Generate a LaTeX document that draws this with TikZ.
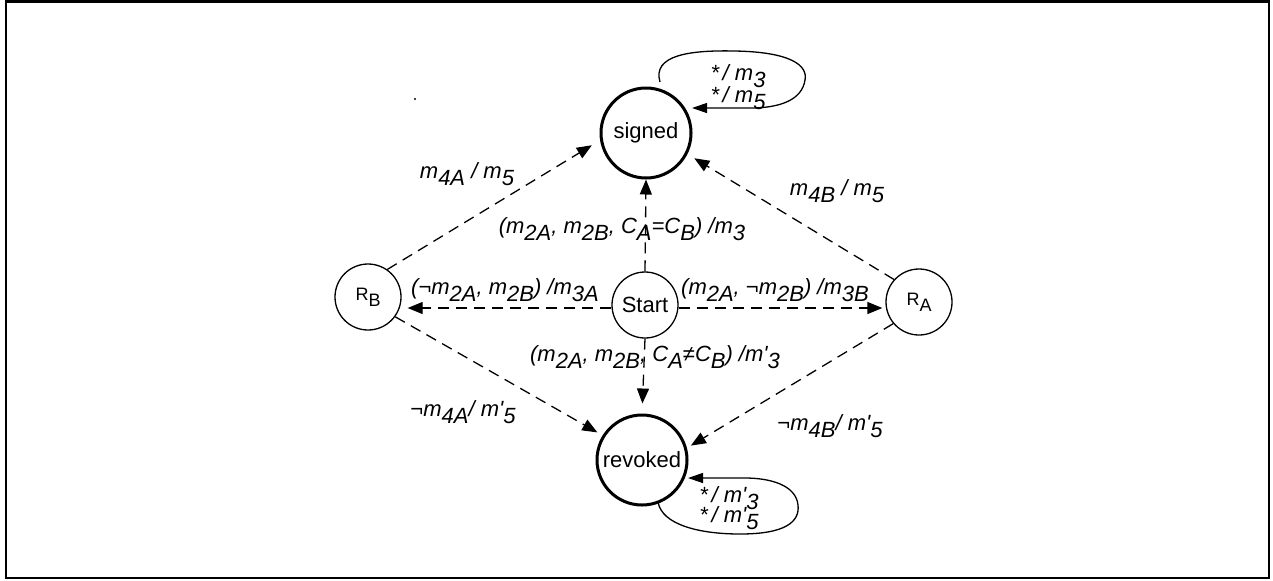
\documentclass[tikz,border=0pt]{standalone}
\usepackage{fontspec}
\setmainfont{Liberation Sans}
\usetikzlibrary{arrows.meta,calc}
\newcommand\lo[1]{\raisebox{-0.32em}{#1}}
\newcommand\pr{\textquotesingle}
\begin{document}
\begin{tikzpicture}[x=0.5pt,y=-0.5pt,
  every node/.style={font=\fontsize{11}{13}\selectfont},
  state/.style={circle,draw,line width=0.65pt,minimum size=33pt,inner sep=0pt},
  final/.style={circle,draw,line width=1.5pt,minimum size=45pt,inner sep=0pt},
  lbl/.style={font=\fontsize{11}{13}\selectfont\itshape,anchor=base,inner sep=0pt},
  tr/.style={dash pattern=on 5.5pt off 3.5pt,line width=0.65pt,-{Triangle[length=7.5pt,width=6pt]}},
  loopline/.style={line width=0.65pt,-{Triangle[length=7.5pt,width=5pt]}}
]
\useasboundingbox (0,0) rectangle (1273,580);
\draw[line width=1.25pt] (6,1.3) rectangle (1269,578);
\fill (415,99) circle[radius=0.6pt];

\node[final] (signed) at (646,133) {signed};
\node[final] (revoked) at (642,460) {revoked};
\node[state] (start) at (645,305) {Start};
\node[state,font=\fontsize{9}{11}\selectfont] (rb) at (368,297) {R\lo{B}};
\node[state,font=\fontsize{9}{11}\selectfont] (ra) at (919,302) {R\lo{A}};
\coordinate (sw) at ($(start.west)+(0,3)$);
\coordinate (se) at ($(start.east)+(0,3)$);

\draw[tr,shorten >=4.8pt] (rb.55) -- (signed.189);
\draw[tr,shorten >=4pt] (ra.138) -- (signed.-27);
\draw[tr] (start.north) -- (signed.south);
\draw[tr,shorten >=3pt] (sw) -- (rb.east |- sw);
\draw[tr,shorten >=1.5pt] (se) -- (ra.west |- se);
\draw[tr,shorten >=5pt] (start.south) -- (revoked.north);
\draw[tr,shorten >=3pt] (rb.-36) -- (revoked.148);
\draw[tr,shorten >=2.3pt] (ra.-140) -- (revoked.15);

\draw[loopline] ($(signed)+(14,-51)$) .. controls (652,55) and (690,50) .. (735,51)
  .. controls (790,52) and (808,65) .. (805,80)
  .. controls (802,100) and (780,108) .. (750,108) -- ($(signed)+(46,-25)$);
\draw[loopline] ($(revoked)+(16,42)$) .. controls (662,525) and (700,534) .. (740,534)
  .. controls (785,534) and (800,522) .. (798,505)
  .. controls (796,485) and (770,478) .. (745,478) -- ($(revoked)+(46,18)$);

\node[lbl] (l1) at (467,178) {m\lo{4A} / m\lo{5}};
\node[lbl] (l2) at (837,195) {m\lo{4B} / m\lo{5}};
\node[lbl] (l3) at (622,233) {(m\lo{2A}, m\lo{2B}, C\lo{A}=C\lo{B}) /m\lo{3}};
\node[lbl] (l4) at (505,294) {(¬m\lo{2A}, m\lo{2B}) /m\lo{3A}};
\node[lbl] (l5) at (775,294) {(m\lo{2A}, ¬m\lo{2B}) /m\lo{3B}};
\node[lbl] (l6) at (655,361) {(m\lo{2A}, m\lo{2B}, C\lo{A}≠C\lo{B}) /m\pr\lo{3}};
\node[lbl] (l7) at (463,416) {¬m\lo{4A}/ m\pr\lo{5}};
\node[lbl] (l8) at (830,430) {¬m\lo{4B}/ m\pr\lo{5}};
\node[lbl] (s3) at (738,80) {*\,/ m\lo{3}};
\node[lbl] (s5) at (738,102) {*\,/ m\lo{5}};
\node[lbl] (r3) at (729,502) {*\,/ m\pr\lo{3}};
\node[lbl] (r5) at (729,522) {*\,/ m\pr\lo{5}};
\end{tikzpicture}
\end{document}
